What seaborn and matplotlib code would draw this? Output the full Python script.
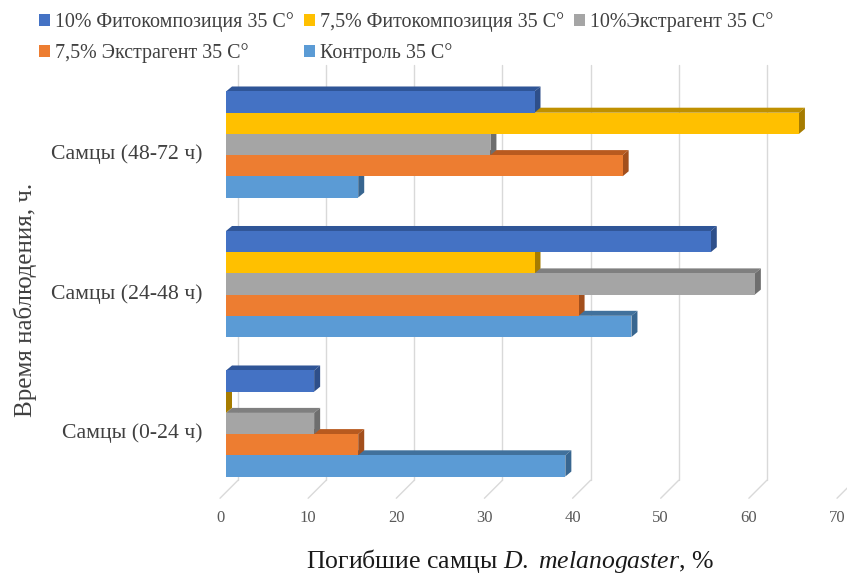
import pandas as pd
import matplotlib
matplotlib.use('Agg')
import matplotlib.pyplot as plt
import matplotlib.transforms as mtrans
from matplotlib.patches import Polygon, Patch
import seaborn as sns

# Data
categories = ['Самцы (48-72 ч)', 'Самцы (24-48 ч)', 'Самцы (0-24 ч)']
series = ['10% Фитокомпозиция 35 С°', '7,5% Фитокомпозиция 35 С°', '10%Экстрагент 35 С°',
          '7,5% Экстрагент 35 С°', 'Контроль 35 С°']
phyto_10 = [35, 55, 10]
phyto_75 = [65, 35, 0]
extr_10 = [30, 60, 10]
extr_75 = [45, 40, 15]
control = [15, 46, 38.5]
x_ticks = [0, 10, 20, 30, 40, 50, 60, 70]

front_colors = ['#4472C4', '#FFC000', '#A5A5A5', '#ED7D31', '#5B9BD5']
top_colors = ['#2F5597', '#BF9000', '#7F7F7F', '#B85A1F', '#41719C']
side_colors = ['#2E4F8A', '#A67C00', '#6E6E6E', '#A34F1C', '#386690']

rows = []
for name, vals in zip(series, [phyto_10, phyto_75, extr_10, extr_75, control]):
    for cat, v in zip(categories, vals):
        rows.append({'cat': cat, 'val': v, 'series': name})
df = pd.DataFrame(rows)

sns.set_theme(style='white')
plt.rcParams['font.family'] = ['Liberation Serif', 'DejaVu Serif']
plt.rcParams['mathtext.fontset'] = 'custom'
plt.rcParams['mathtext.rm'] = 'Liberation Serif'
plt.rcParams['mathtext.it'] = 'Liberation Serif:italic'

W, H = 847, 574
ax_l, ax_r, ax_t, ax_b = 226, 843, 74.75, 493.25
fig = plt.figure(figsize=(W / 100, H / 100), dpi=100)
ax = fig.add_axes([ax_l / W, 1 - ax_b / H, (ax_r - ax_l) / W, (ax_b - ax_t) / H])

sns.barplot(data=df, y='cat', x='val', hue='series', order=categories, hue_order=series,
            palette=front_colors, orient='h', width=0.76, saturation=1, linewidth=0,
            legend=False, ax=ax)

ax.set_xlim(0, 70)
ax.set_ylim(2.5, -0.5)
px_x = 70 / (ax_r - ax_l)   # data units per pixel (x)
px_y = 3 / (ax_b - ax_t)    # data units per pixel (y)
dx, dy = 6 * px_x, 5 * px_y

# pseudo-3D faces derived from the bars seaborn drew
for i, cont in enumerate(ax.containers):
    for p in cont.patches:
        p.set_zorder(5)
        x0, y0, w, h = p.get_x(), p.get_y(), p.get_width(), p.get_height()
        x1 = x0 + w
        z = 4 + (5 - i) * 0.01
        ax.add_patch(Polygon([(x0, y0), (x1, y0), (x1 + dx, y0 - dy), (x0 + dx, y0 - dy)],
                             closed=True, facecolor=top_colors[i], lw=0, zorder=z))
        ax.add_patch(Polygon([(x1, y0), (x1, y0 + h), (x1 + dx, y0 + h - dy), (x1 + dx, y0 - dy)],
                             closed=True, facecolor=side_colors[i], lw=0, zorder=z))

# back-wall grid and floor diagonals
gdx = 12 * px_x
front_off = 6 * px_x
y_top = -0.5 - 10 * px_y
y_back = 2.5 - 13 * px_y
y_front = 2.5 + 5 * px_y
for k in x_ticks:
    ax.plot([k + gdx, k + gdx], [y_top, y_back], color='#D9D9D9', lw=1, zorder=0, clip_on=False)
    ax.plot([k + gdx, k - front_off], [y_back, y_front], color='#D9D9D9', lw=1, zorder=0, clip_on=False)

sns.despine(ax=ax, left=True, bottom=True)
ax.set_xticks(x_ticks)
ax.tick_params(axis='x', length=0, pad=12, labelsize=12, labelcolor='#595959')
ax.tick_params(axis='y', length=0, pad=17, labelsize=15.7, labelcolor='#404040')
for lab in ax.get_xticklabels():
    lab.set_transform(lab.get_transform() + mtrans.ScaledTranslation(-6 / 100, 0, fig.dpi_scale_trans))
for lab in ax.get_yticklabels():
    lab.set_transform(lab.get_transform() + mtrans.ScaledTranslation(0, -7.5 / 100, fig.dpi_scale_trans))

ax.set_xlabel(r'Погибшие самцы $\mathit{D.}$ $\mathit{melanogaster}$, %', fontsize=18.5, color='#1a1a1a')
ax.xaxis.set_label_coords((510 - ax_l) / (ax_r - ax_l), (ax_b - 547) / (ax_b - ax_t))
ax.set_ylabel('Время наблюдения, ч.', fontsize=18, color='#404040')
ax.yaxis.set_label_coords((37 - ax_l) / (ax_r - ax_l), (ax_b - 300) / (ax_b - ax_t))

# legend in row-major order over two rows
handles = [Patch(facecolor=c, edgecolor='none') for c in front_colors]
order = [0, 3, 1, 4, 2]
fig.legend([handles[i] for i in order], [series[i] for i in order], ncol=3,
           loc='upper left', bbox_to_anchor=(39 / W, 1 - 12 / H), frameon=False, fontsize=14.4,
           handlelength=0.55, handleheight=0.5, handletextpad=0.25, columnspacing=0.5,
           labelspacing=0.56, labelcolor='#404040', borderpad=0, borderaxespad=0)

fig.savefig('out.png', dpi=100)
